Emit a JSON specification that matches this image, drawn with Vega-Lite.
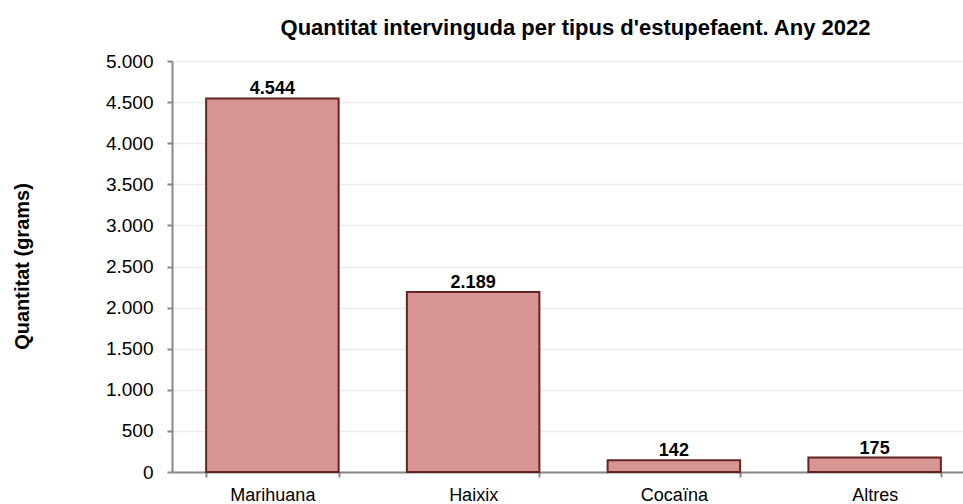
{
  "$schema": "https://vega.github.io/schema/vega-lite/v6.json",
  "autosize": "none",
  "width": 791,
  "height": 411,
  "padding": {"left": 172, "top": 61, "right": 0, "bottom": 32},
  "background": "white",
  "config": {
    "font": "Liberation Sans",
    "view": {"stroke": null},
    "locale": {"number": {"decimal": ",", "thousands": ".", "grouping": [3], "currency": ["", " €"]}}
  },
  "title": {
    "text": "Quantitat intervinguda per tipus d'estupefaent. Any 2022",
    "font": "Liberation Sans",
    "fontSize": 22,
    "fontWeight": "bold",
    "color": "black",
    "anchor": "middle",
    "frame": "group",
    "dx": 8,
    "offset": 12
  },
  "data": {
    "values": [
      {"tipus": "Marihuana", "grams": 4544},
      {"tipus": "Haixix", "grams": 2189},
      {"tipus": "Cocaïna", "grams": 142},
      {"tipus": "Altres", "grams": 175}
    ]
  },
  "encoding": {
    "x": {
      "field": "tipus",
      "type": "nominal",
      "sort": null,
      "scale": {"range": [0, 803], "paddingInner": 0.34, "paddingOuter": 0.17},
      "axis": {
        "title": null,
        "labelAngle": 0,
        "labelFontSize": 18,
        "labelColor": "black",
        "labelPadding": 9,
        "tickBand": "extent",
        "tickSize": 5,
        "tickColor": "#888888",
        "tickWidth": 2,
        "domainColor": "#888888",
        "domainWidth": 2,
        "grid": false
      }
    },
    "y": {
      "field": "grams",
      "type": "quantitative",
      "scale": {"domain": [0, 5000], "nice": false},
      "axis": {
        "title": "Quantitat (grams)",
        "titleFontSize": 20,
        "titleFontWeight": "bold",
        "titleColor": "black",
        "titleX": -150,
        "titleY": 205,
        "titleAngle": -90,
        "titleBaseline": "middle",
        "values": [0, 500, 1000, 1500, 2000, 2500, 3000, 3500, 4000, 4500, 5000],
        "format": ",d",
        "labelFontSize": 19,
        "labelColor": "black",
        "labelPadding": 14,
        "tickSize": 5,
        "tickColor": "#888888",
        "tickWidth": 2,
        "domainColor": "#888888",
        "domainWidth": 2,
        "grid": true,
        "gridColor": "#ECECEC",
        "gridWidth": 1.5
      }
    }
  },
  "layer": [
    {
      "mark": {"type": "bar", "fill": "#D99594", "stroke": "#632523", "strokeWidth": 2}
    },
    {
      "mark": {"type": "text", "fontSize": 18, "fontWeight": "bold", "color": "black", "baseline": "alphabetic", "dy": -4},
      "encoding": {
        "text": {"field": "grams", "type": "quantitative", "format": ",d"}
      }
    }
  ]
}
